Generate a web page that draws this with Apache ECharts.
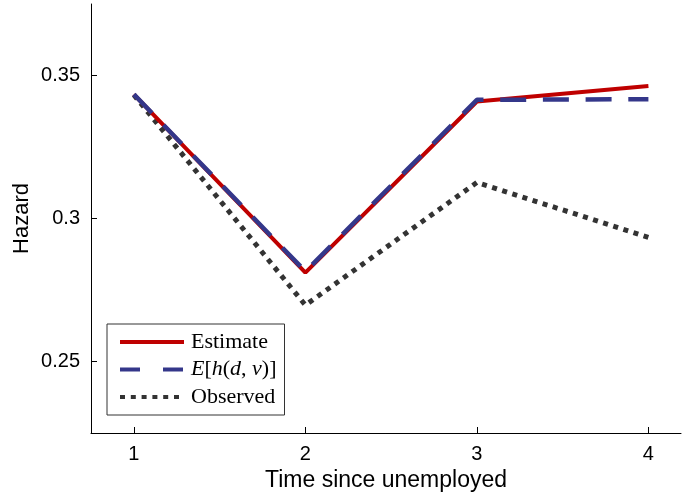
<!DOCTYPE html>
<html>
<head>
<meta charset="utf-8">
<script src="https://cdn.jsdelivr.net/npm/echarts@6/dist/echarts.min.js"></script>
<style>html,body{margin:0;padding:0;background:#fff}#c{width:682px;height:497px}</style>
</head>
<body>
<div id="c"></div>
<script>
const times = [1, 2, 3, 4];
const estimate = [0.3434, 0.2811, 0.3409, 0.3463];
const expected = [0.3434, 0.2815, 0.3415, 0.3417];
const observed = [0.3432, 0.2697, 0.3126, 0.2934];
const xTicks = [1, 2, 3, 4];
const yTicks = [0.25, 0.3, 0.35];
const seriesNames = ['Estimate', 'E[h(d,ν)]', 'Observed'];

const pair = (ys) => times.map((t, i) => [t, ys[i]]);
const sans = 'Liberation Sans, Arial, Helvetica, sans-serif';
const serif = 'Liberation Serif, Times New Roman, serif';

const chart = echarts.init(document.getElementById('c'), null, {renderer: 'canvas'});
chart.setOption({
  animation: false,
  backgroundColor: '#fff',
  grid: {left: 91, right: 1, top: 4, bottom: 64, containLabel: false},
  xAxis: {
    type: 'value', min: 0.75, max: 4.19,
    name: 'Time since unemployed', nameLocation: 'middle', nameGap: 28,
    nameTextStyle: {fontFamily: sans, fontSize: 23, color: '#000'},
    axisLine: {show: true, onZero: false, lineStyle: {color: '#000', width: 1}},
    axisTick: {show: true, inside: true, length: 6, customValues: xTicks, lineStyle: {color: '#000'}},
    axisLabel: {customValues: xTicks, margin: 11, fontFamily: sans, fontSize: 20, color: '#000'},
    splitLine: {show: false}
  },
  yAxis: {
    type: 'value', min: 0.225, max: 0.375,
    name: 'Hazard', nameLocation: 'middle', nameGap: 58, nameRotate: 90, nameMoveOverlap: false,
    nameTextStyle: {fontFamily: sans, fontSize: 22, color: '#000', verticalAlign: 'bottom'},
    axisLine: {show: true, onZero: false, lineStyle: {color: '#000', width: 1}},
    axisTick: {show: true, inside: true, length: 6, customValues: yTicks, lineStyle: {color: '#000'}},
    axisLabel: {customValues: yTicks, margin: 11, fontFamily: sans, fontSize: 20, color: '#000'},
    splitLine: {show: false}
  },
  legend: {
    orient: 'vertical', left: 107, top: 324,
    backgroundColor: '#fff', borderColor: '#333', borderWidth: 1,
    padding: [7, 8, 7, 11],
    itemWidth: 64, itemHeight: 20, itemGap: 5.5,
    itemStyle: {opacity: 0},
    lineStyle: {width: 4},
    textStyle: {
      fontFamily: serif, fontSize: 22, color: '#000', lineHeight: 20, padding: [0, 0, 0, 2],
      rich: {i: {fontFamily: serif, fontStyle: 'italic', fontSize: 22, color: '#000', lineHeight: 20},
             n: {fontFamily: serif, fontSize: 22, color: '#000', lineHeight: 20}}
    },
    formatter: function (name) {
      if (name === seriesNames[1]) return '{i|E}{n|[}{i|h}{n|(}{i|d}{n|, }{i|ν}{n|)]}';
      return name;
    },
    data: [
      {name: seriesNames[0]},
      {name: seriesNames[1], lineStyle: {type: [20, 23]}},
      {name: seriesNames[2], lineStyle: {type: [5, 5.8]}}
    ]
  },
  series: [
    {
      name: seriesNames[0], type: 'line', data: pair(estimate), symbol: 'none', z: 3,
      lineStyle: {color: '#BF0000', width: 4, type: 'solid'}, itemStyle: {color: '#BF0000'}
    },
    {
      name: seriesNames[1], type: 'line', data: pair(expected), symbol: 'none', z: 4,
      lineStyle: {color: '#34378A', width: 4.5, type: [26, 16.7], cap: 'butt'}, itemStyle: {color: '#34378A'}
    },
    {
      name: seriesNames[2], type: 'line', data: pair(observed), symbol: 'none', z: 2,
      lineStyle: {color: '#333333', width: 5, type: [5, 5.6], cap: 'butt'}, itemStyle: {color: '#333333'}
    }
  ]
});
</script>
</body>
</html>
